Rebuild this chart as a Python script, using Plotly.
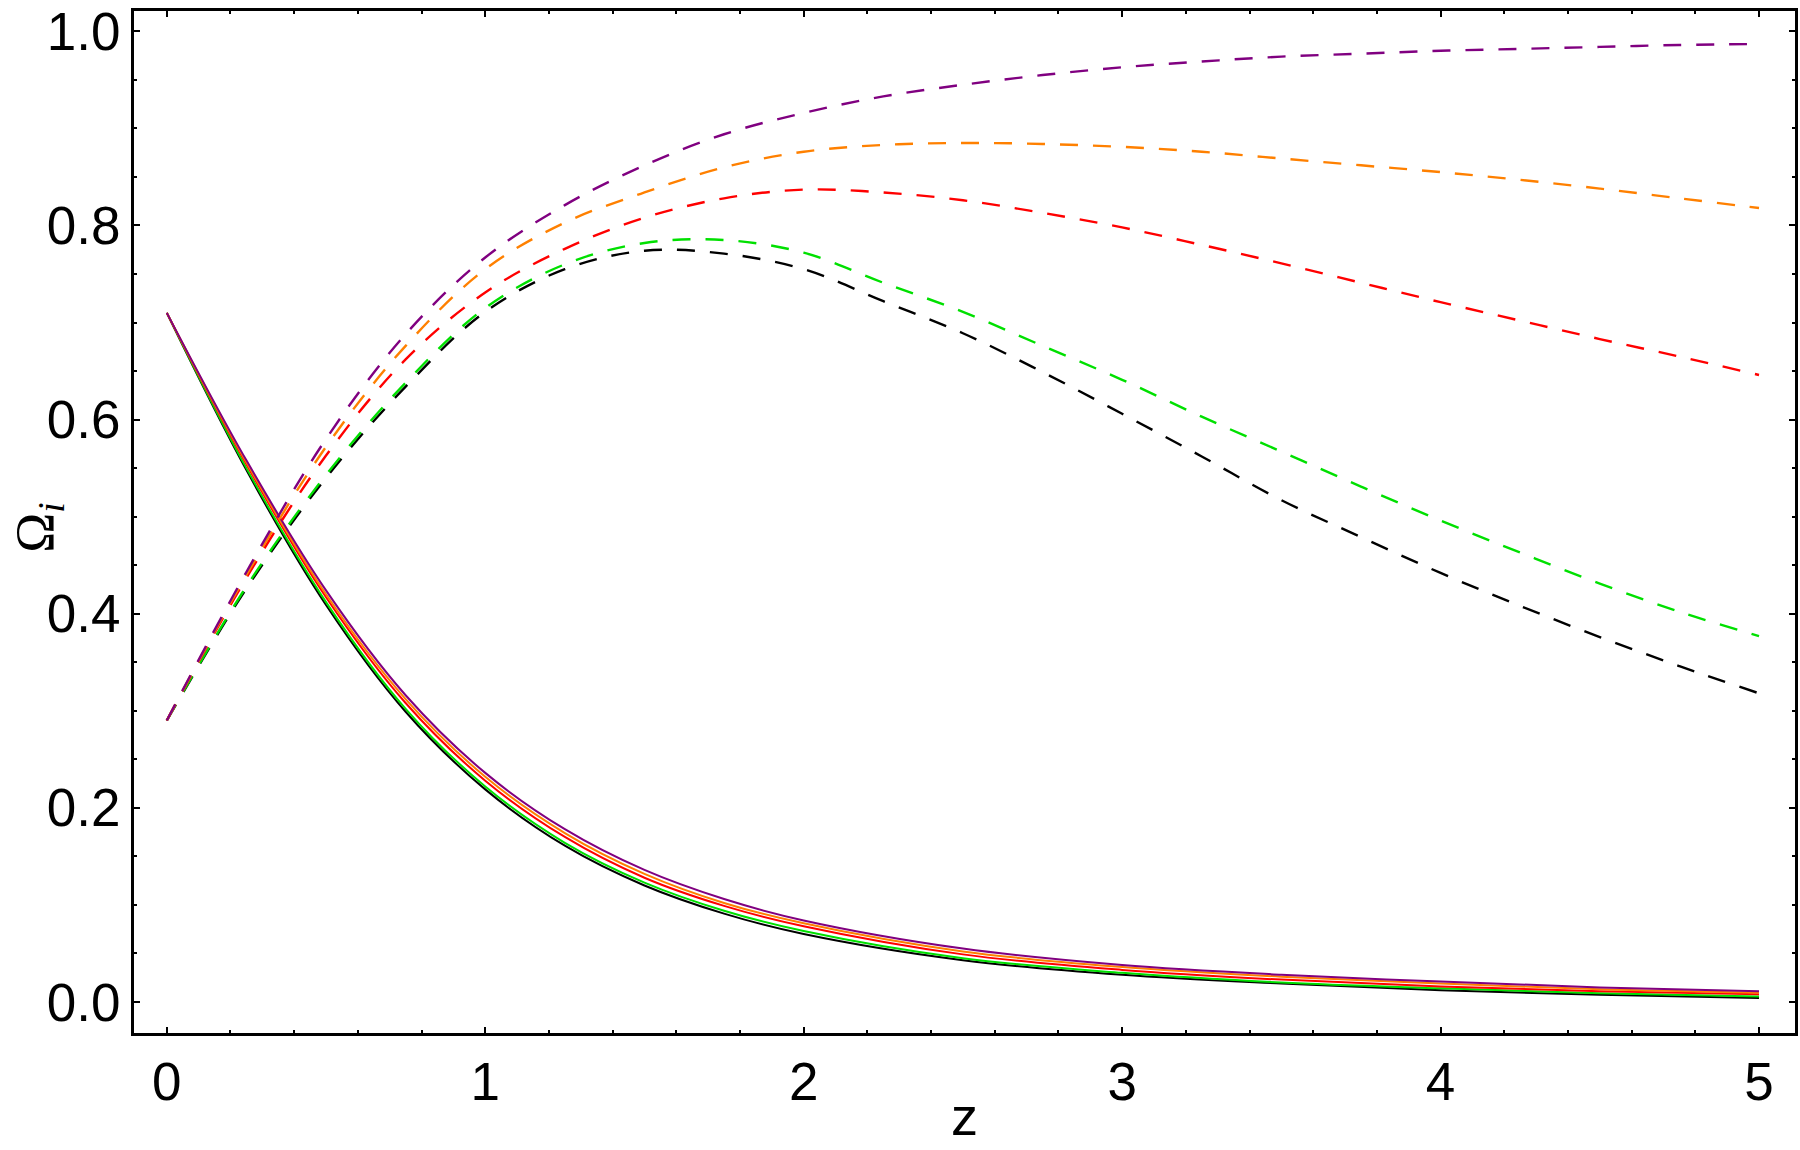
import plotly.graph_objects as go

# redshift sample points
z_solid = [0, 0.25, 0.5, 0.75, 1, 1.25, 1.5, 1.75, 2, 2.5, 3, 3.5, 4, 4.5, 5]
z_dashed = [0, 0.25, 0.5, 0.75, 1, 1.25, 1.5, 1.75, 2, 2.25, 2.5, 2.75, 3, 3.25, 3.5,
            3.75, 4, 4.25, 4.5, 4.75, 5]

# decreasing (solid) curves
solid_purple = [0.710, 0.558, 0.424, 0.316, 0.236, 0.178, 0.136, 0.106, 0.084, 0.055, 0.038, 0.028, 0.021, 0.015, 0.011]
solid_orange = [0.710, 0.556, 0.420, 0.312, 0.232, 0.174, 0.132, 0.102, 0.081, 0.052, 0.036, 0.026, 0.019, 0.013, 0.0095]
solid_red = [0.710, 0.554, 0.417, 0.308, 0.228, 0.170, 0.128, 0.099, 0.078, 0.049, 0.033, 0.023, 0.016, 0.011, 0.008]
solid_green = [0.710, 0.550, 0.412, 0.302, 0.222, 0.164, 0.123, 0.094, 0.073, 0.045, 0.030, 0.020, 0.014, 0.009, 0.0055]
solid_black = [0.710, 0.548, 0.409, 0.299, 0.219, 0.161, 0.120, 0.091, 0.070, 0.043, 0.028, 0.019, 0.012, 0.0075, 0.004]

# increasing (dashed) curves
dashed_purple = [0.290, 0.443, 0.580, 0.688, 0.767, 0.821, 0.862, 0.894, 0.916, 0.933, 0.945,
                 0.955, 0.963, 0.969, 0.974, 0.977, 0.980, 0.982, 0.984, 0.986, 0.987]
dashed_orange = [0.290, 0.440, 0.572, 0.676, 0.755, 0.803, 0.834, 0.860, 0.876, 0.883, 0.885,
                 0.884, 0.881, 0.876, 0.869, 0.862, 0.855, 0.847, 0.838, 0.828, 0.818]
dashed_red = [0.290, 0.437, 0.563, 0.662, 0.731, 0.776, 0.808, 0.828, 0.837, 0.834, 0.826,
              0.813, 0.798, 0.780, 0.761, 0.741, 0.721, 0.702, 0.683, 0.665, 0.646]
dashed_green = [0.290, 0.428, 0.543, 0.638, 0.715, 0.760, 0.782, 0.785, 0.772, 0.741, 0.711,
                0.676, 0.641, 0.603, 0.567, 0.531, 0.496, 0.463, 0.431, 0.402, 0.377]
dashed_black = [0.290, 0.426, 0.540, 0.634, 0.711, 0.755, 0.774, 0.771, 0.755, 0.722, 0.689,
                0.649, 0.606, 0.562, 0.517, 0.479, 0.442, 0.408, 0.376, 0.346, 0.318]

x_ticks = [0, 1, 2, 3, 4, 5]
y_ticks = [0.0, 0.2, 0.4, 0.6, 0.8, 1.0]

colors = {
    "black": "#000000",
    "green": "#00e000",
    "red": "#ff0000",
    "orange": "#ff8000",
    "purple": "#800080",
}

solid = [
    ("black", solid_black), ("green", solid_green), ("red", solid_red),
    ("orange", solid_orange), ("purple", solid_purple),
]
dashed = [
    ("black", dashed_black), ("green", dashed_green), ("red", dashed_red),
    ("orange", dashed_orange), ("purple", dashed_purple),
]

fig = go.Figure()

for name, ys in solid:
    fig.add_trace(go.Scatter(
        x=z_solid, y=ys, mode="lines", showlegend=False,
        line=dict(color=colors[name], width=2, shape="spline", smoothing=1.0),
    ))

for name, ys in dashed:
    fig.add_trace(go.Scatter(
        x=z_dashed, y=ys, mode="lines", showlegend=False,
        line=dict(color=colors[name], width=2.4, dash="18px,15px", shape="spline", smoothing=1.0),
    ))

tick_font = dict(family="Liberation Sans, Arial, sans-serif", size=53, color="black")
axis_common = dict(
    showline=True, linecolor="black", linewidth=3, mirror="allticks",
    ticks="inside", ticklen=6, tickwidth=2, tickcolor="black",
    showgrid=False, zeroline=False, ticklabeloverflow="allow",
    tickfont=tick_font,
)

fig.update_xaxes(
    range=[-0.103, 5.113], tickvals=x_ticks, ticktext=[str(v) for v in x_ticks],
    minor=dict(dtick=0.2, tick0=0, ticks="inside", ticklen=3, tickwidth=1.5, tickcolor="black"),
    **axis_common,
)
fig.update_yaxes(
    range=[-0.032, 1.021], tickvals=y_ticks, ticktext=[f"{v:.1f}" for v in y_ticks],
    minor=dict(dtick=0.05, tick0=0, ticks="inside", ticklen=3, tickwidth=1.5, tickcolor="black"),
    **axis_common,
)

fig.update_layout(
    width=1800, height=1150,
    margin=dict(l=134, r=2, t=5, b=117),
    paper_bgcolor="white", plot_bgcolor="white",
    hovermode=False,
    annotations=[
        dict(text="z", xref="paper", yref="paper", x=0.5, y=-0.081,
             xanchor="center", yanchor="middle", showarrow=False,
             font=dict(family="Liberation Sans, Arial, sans-serif", size=54, color="black")),
        dict(text="Ω<sub><i>i</i></sub>", xref="paper", yref="paper", x=-0.058, y=0.495,
             xanchor="center", yanchor="middle", showarrow=False, textangle=-90,
             font=dict(family="Liberation Serif, Times New Roman, serif", size=54, color="black")),
    ],
)

# drop the browser's default body margin so the figure sits at the page corner
fig.write_html(
    "out.html",
    config={"displayModeBar": False},
    post_script="document.body.style.margin='0';",
)
